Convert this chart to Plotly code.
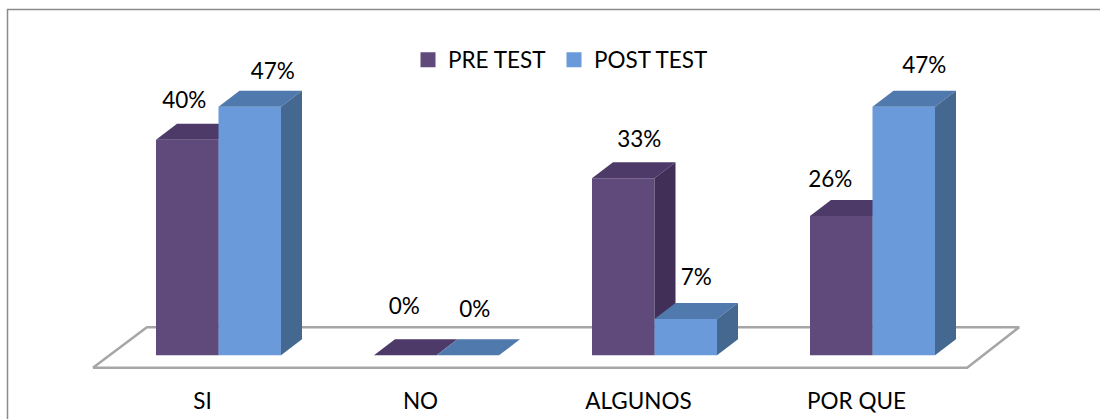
import plotly.graph_objects as go

categories = ["SI", "NO", "ALGUNOS", "POR QUE"]
pre_test = [40.5, 0, 33.3, 26.2]
post_test = [46.7, 0, 6.8, 46.7]
pre_labels = ["40%", "0%", "33%", "26%"]
post_labels = ["47%", "0%", "7%", "47%"]
pre_label_shift = [(-3, -37.5), (-1, -46.5), (16, -36.5), (-11, -34.5)]
post_label_shift = [(23, -33), (7, -43.5), (10.5, -40), (20.5, -39.5)]

PX_X, PX_Y = 218.0, 5.32      # pixels per category / per percent
BAR = 62.5 / PX_X
DX, DY = 21 / PX_X, 16 / PX_Y  # oblique depth of a bar
FONT = "Lato"
FS = 22.5
C = {"pre": ("#604a7b", "#4e3a68", "#412f57"), "post": ("#6a9ad9", "#5079ad", "#44688f")}

fig = go.Figure()

# floor
fx = [-0.576, 3.434, 3.434 + 0.2385, -0.576 + 0.2475, -0.576]
fy = [-2.33, -2.33, 5.26, 5.26, -2.33]
fig.add_trace(go.Scatter(x=fx, y=fy, mode="lines", fill="toself", fillcolor="white",
                         line=dict(color="#a6a6a6", width=2.5), showlegend=False,
                         hoverinfo="skip", zorder=0))


def series(name, vals, key, offset, z, legend):
    front, top, side = C[key]
    fig.add_trace(go.Bar(x=list(range(len(vals))), y=vals, width=BAR, offset=offset,
                         marker=dict(color=front, line=dict(width=0)), showlegend=False,
                         name=name, zorder=z))
    for i, v in enumerate(vals):
        x0, x1 = i + offset, i + offset + BAR
        fig.add_trace(go.Scatter(x=[x0, x1, x1 + DX, x0 + DX, x0], y=[v, v, v + DY, v + DY, v],
                                 mode="lines", fill="toself", fillcolor=top, line=dict(width=0),
                                 showlegend=False, hoverinfo="skip", zorder=z))
        if v > 0:
            fig.add_trace(go.Scatter(x=[x1, x1 + DX, x1 + DX, x1, x1], y=[0, DY, v + DY, v, 0],
                                     mode="lines", fill="toself", fillcolor=side, line=dict(width=0),
                                     showlegend=False, hoverinfo="skip", zorder=z))
    # legend entry
    fig.add_trace(go.Scatter(x=[None], y=[None], mode="markers", name=name, legend=legend,
                             marker=dict(symbol="square", size=15, color=front)))


series("PRE TEST", pre_test, "pre", -BAR, 1, "legend")
series("POST TEST", post_test, "post", 0, 2, "legend2")


def labels(vals, texts, shift, offset):
    fig.add_trace(go.Scatter(
        x=[i + offset + BAR / 2 + s[0] / PX_X for i, s in enumerate(shift)],
        y=[v - s[1] / PX_Y for v, s in zip(vals, shift)],
        mode="text", text=texts, textposition="middle center",
        textfont=dict(family=FONT, size=FS, color="#000000"),
        showlegend=False, hoverinfo="skip", zorder=3))


labels(pre_test, pre_labels, pre_label_shift, -BAR)
labels(post_test, post_labels, post_label_shift, 0)


def legend_box(left):
    return dict(orientation="h", x=left / 1100, y=(385 - 60) / 385, yanchor="middle",
                xanchor="left", font=dict(family=FONT, size=FS), bgcolor="rgba(0,0,0,0)",
                itemwidth=30)


fig.update_layout(
    width=1100, height=419, margin=dict(l=0, r=0, t=0, b=34),
    paper_bgcolor="white", plot_bgcolor="white", barmode="overlay",
    font=dict(family=FONT, size=FS, color="#000000"),
    legend=legend_box(408),
    legend2=legend_box(554),
    xaxis=dict(range=[-218.5 / PX_X, (1100 - 218.5) / PX_X], showgrid=False, zeroline=False,
               showline=False, tickmode="array", tickvals=[i - 16 / PX_X for i in range(4)],
               ticktext=categories, ticks="", tickfont=dict(family=FONT, size=FS)),
    yaxis=dict(range=[(355.3 - 385) / PX_Y, 355.3 / PX_Y], visible=False),
    shapes=[dict(type="rect", xref="paper", yref="paper",
                 x0=7.5 / 1100, x1=1.02, y0=-0.2, y1=(385 - 9.5) / 385,
                 line=dict(color="#8c8c8c", width=1.5), fillcolor="rgba(0,0,0,0)", layer="below")],
)

fig.write_html("out.html", config={"displayModeBar": False},
               post_script="document.body.style.margin='0';")
